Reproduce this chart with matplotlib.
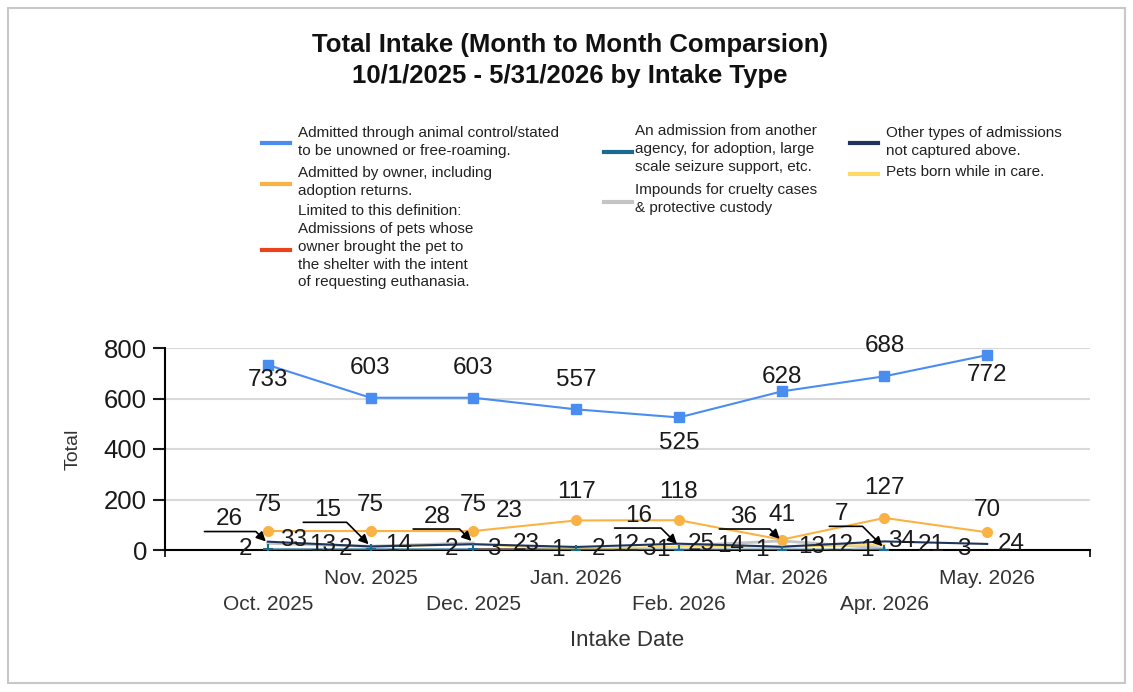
import numpy as np
import matplotlib.pyplot as plt
from matplotlib.lines import Line2D
from matplotlib.patches import Rectangle

plt.rcParams['font.family'] = ['Liberation Sans', 'DejaVu Sans']

# ---------------- data ----------------
months = ["Oct. 2025", "Nov. 2025", "Dec. 2025", "Jan. 2026",
          "Feb. 2026", "Mar. 2026", "Apr. 2026", "May. 2026"]
animal_control = [733, 603, 603, 557, 525, 628, 688, 772]
owner = [75, 75, 75, 117, 118, 41, 127, 70]
euthanasia = [np.nan, np.nan, 3, 2, np.nan, np.nan, 3, np.nan]
other_agency = [2, 2, 2, 1, 1, 1, 1, np.nan]
cruelty = [26, 15, 28, np.nan, 16, 36, 7, np.nan]
other_types = [33, 14, 23, 12, 25, 13, 34, 24]
born_in_care = [np.nan, 13, 23, 3, 14, 12, 21, np.nan]

legend_text = {
    "blue": "Admitted through animal control/stated\nto be unowned or free-roaming.",
    "orange": "Admitted by owner, including\nadoption returns.",
    "red": "Limited to this definition:\nAdmissions of pets whose\nowner brought the pet to\nthe shelter with the intent\nof requesting euthanasia.",
    "teal": "An admission from another\nagency, for adoption, large\nscale seizure support, etc.",
    "gray": "Impounds for cruelty cases\n& protective custody",
    "navy": "Other types of admissions\nnot captured above.",
    "yellow": "Pets born while in care.",
}

c_blue = "#4a8df0"
c_orange = "#fbb244"
c_red = "#e8431a"
c_teal = "#1b6a8f"
c_gray = "#c4c4c4"
c_navy = "#1f3560"
c_yellow = "#ffd966"

W, H = 1133, 692
fig = plt.figure(figsize=(W / 100, H / 100), dpi=100)

def fx(px):
    return px / W

def fy(py):
    return 1 - py / H

# outer border
fig.patches.append(Rectangle((fx(8), fy(683)), fx(1117), 675 / H, transform=fig.transFigure,
                             fill=False, edgecolor="#c8c8c8", lw=1.5))

# title
fig.text(fx(570), fy(45), "Total Intake (Month to Month Comparsion)", ha="center", va="center",
         fontsize=18.5, fontweight="bold", color="#111111")
fig.text(fx(570), fy(76), "10/1/2025 - 5/31/2026 by Intake Type", ha="center", va="center",
         fontsize=18.5, fontweight="bold", color="#111111")

# ---------------- legend (hand placed) ----------------
# (line x, text x, line y, first text line y, key, colour)
leg = [
    (262, 298, 143, 135, "blue", c_blue),
    (262, 298, 184, 175, "orange", c_orange),
    (262, 298, 250, 213, "red", c_red),
    (604, 635, 152, 133, "teal", c_teal),
    (604, 635, 202, 192, "gray", c_gray),
    (850, 886, 143, 135, "navy", c_navy),
    (850, 886, 174, 174, "yellow", c_yellow),
]
for lx, tx, ly, ty, key, col in leg:
    fig.add_artist(Line2D([fx(lx), fx(lx + 28)], [fy(ly), fy(ly)], transform=fig.transFigure,
                          color=col, lw=3))
    fig.text(fx(tx), fy(ty - 9), legend_text[key], ha="left", va="top",
             fontsize=11, color="#222222", linespacing=1.35)

# ---------------- axes ----------------
ax = fig.add_axes([fx(165), fy(550), fx(1090 - 165), (550 - 348) / H])
x = np.arange(1, len(months) + 1)

ax.plot(x, animal_control, color=c_blue, lw=1.5, marker="s", ms=7, zorder=5)
ax.plot(x, owner, color=c_orange, lw=1.5, marker="o", ms=7, zorder=5)
ax.plot(x, euthanasia, color=c_red, lw=1.5, zorder=3)
ax.plot(x, cruelty, color=c_gray, lw=2, zorder=3)
ax.plot(x, born_in_care, color=c_yellow, lw=1.5, zorder=3)
ax.plot(x, other_types, color=c_navy, lw=1.5, zorder=3)
ax.plot(x, other_agency, color=c_teal, lw=1.5, marker="+", ms=7, mew=1.5, zorder=4)

ax.set_xlim(0, 9)
ax.set_ylim(0, 800)
ax.set_yticks([0, 200, 400, 600, 800])
ax.tick_params(axis="y", labelsize=18.5, length=9, width=1.5, pad=4, colors="#1a1a1a")
ax.set_xticks([0, 9])
ax.set_xticklabels(["", ""])
ax.tick_params(axis="x", length=5, width=1.2)
ax.grid(axis="y", color="#d9d9d9", lw=1.5)
ax.set_axisbelow(True)
for s in ["top", "right"]:
    ax.spines[s].set_visible(False)
ax.spines["left"].set_linewidth(1.5)
ax.spines["bottom"].set_linewidth(1.5)

# month labels staggered
for i, m in enumerate(months):
    ypx = 578 if i % 2 == 1 else 605
    ax.text(x[i], -(ypx - 550) / 202 * 800, m, ha="center", va="center", fontsize=15,
            color="#333333", clip_on=False)

ax.set_ylabel("Total", fontsize=14, color="#333333", labelpad=16)
ax.text(4.5, -(640 - 550) / 202 * 800, "Intake Date", ha="center", va="center", fontsize=16,
        color="#333333", clip_on=False)

# ---------------- data labels ----------------
lab_kw = dict(textcoords="offset pixels", ha="center", va="center", fontsize=17.5,
              color="#1a1a1a", zorder=6, annotation_clip=False)
blue_off = [-15, 30, 30, 29, -26, 14, 30, -20]
for i, v in enumerate(animal_control):
    ax.annotate(str(v), (x[i], v), xytext=(0, blue_off[i]), **lab_kw)
orange_off = [(0, 26), (0, 26), (0, 26), (0, 28), (0, 28), (0, 25), (0, 30), (0, 22)]
for i, v in enumerate(owner):
    ax.annotate(str(v), (x[i], v), xytext=orange_off[i], **lab_kw)

# small-series labels (offsets in pixels from their point)
small = [
    (other_agency, [(-22, 0), (-25, 0), (-22, 0), (-18, 0), (-16, 0), (-20, 0), (-18, 0), (0, 0)]),
    (other_types, [(26, 2), (28, 1), (36, 33), (50, 2), (22, 0), (30, 0), (17, 0), (24, 0)]),
    (born_in_care, [(0, 0), (-48, 2), (53, 0), (73, 0), (52, 0), (58, 2), (47, 0), (0, 0)]),
    (euthanasia, [(0, 0), (0, 0), (20, 0), (22, 0), (0, 0), (0, 0), (79, 0), (0, 0)]),
]
for series, offs in small:
    for i, v in enumerate(series):
        if np.isnan(v):
            continue
        ax.annotate(str(v), (x[i], v), xytext=offs[i], **lab_kw)

# cruelty labels with leader lines
gray_off = [(-39, 24), (-43, 36), (-36, 26), (0, 0), (-40, 30), (-38, 24), (-43, 34), (0, 0)]
for i, v in enumerate(cruelty):
    if np.isnan(v):
        continue
    ax.annotate(str(v), (x[i], v), xytext=gray_off[i],
                arrowprops=dict(arrowstyle="-|>", color="black", lw=1.2, shrinkA=0, shrinkB=2,
                                relpos=(-0.4, -0.05), mutation_scale=14, patchA=None,
                                connectionstyle="angle,angleA=0,angleB=135,rad=0"),
                **lab_kw)

plt.savefig("out.png", dpi=100)
